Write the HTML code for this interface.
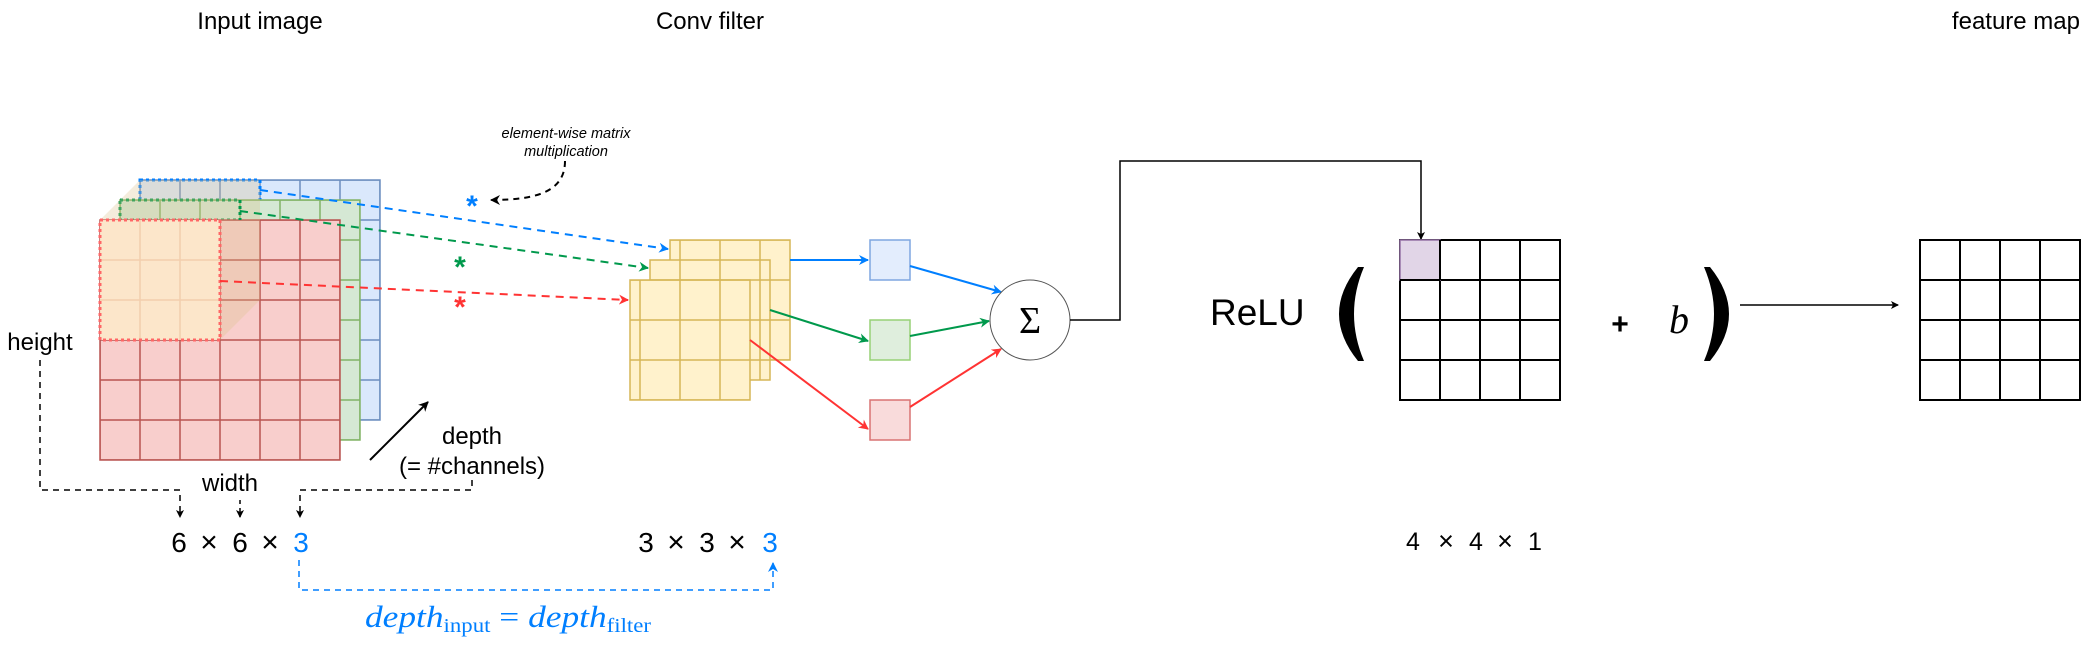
<!DOCTYPE html>
<html><head><meta charset="utf-8"><style>
html,body{margin:0;padding:0;background:#fff}
svg{display:block}
text{font-family:"Liberation Sans",sans-serif}
.serif{font-family:"Liberation Serif","DejaVu Serif",serif}
</style></head><body>
<svg width="2082" height="666" viewBox="0 0 2082 666" xmlns="http://www.w3.org/2000/svg">
<defs>
<marker id="ab" markerWidth="10" markerHeight="10" refX="9" refY="5" orient="auto" markerUnits="userSpaceOnUse"><path d="M0,0 L10,5 L0,10 L3,5 z" fill="#007FFF"/></marker>
<marker id="ag" markerWidth="10" markerHeight="10" refX="9" refY="5" orient="auto" markerUnits="userSpaceOnUse"><path d="M0,0 L10,5 L0,10 L3,5 z" fill="#00994C"/></marker>
<marker id="ar" markerWidth="10" markerHeight="10" refX="9" refY="5" orient="auto" markerUnits="userSpaceOnUse"><path d="M0,0 L10,5 L0,10 L3,5 z" fill="#FF3333"/></marker>
<marker id="ak" markerWidth="10" markerHeight="10" refX="9" refY="5" orient="auto" markerUnits="userSpaceOnUse"><path d="M0,0 L10,5 L0,10 L3,5 z" fill="#000"/></marker>
<marker id="aks" markerWidth="8" markerHeight="8" refX="7" refY="4" orient="auto" markerUnits="userSpaceOnUse"><path d="M0,0 L8,4 L0,8 L2,4 z" fill="#000"/></marker>
<pattern id="gb" width="40" height="40" patternUnits="userSpaceOnUse" x="140" y="180"><rect width="40" height="40" fill="#dae8fc" stroke="#6c8ebf" stroke-width="1.5"/></pattern>
<pattern id="gg" width="40" height="40" patternUnits="userSpaceOnUse" x="120" y="200"><rect width="40" height="40" fill="#d5e8d4" stroke="#82b366" stroke-width="1.5"/></pattern>
<pattern id="gr" width="40" height="40" patternUnits="userSpaceOnUse" x="100" y="220"><rect width="40" height="40" fill="#f8cecc" stroke="#b85450" stroke-width="1.5"/></pattern>
<pattern id="gy" width="40" height="40" patternUnits="userSpaceOnUse" x="0" y="0"><rect width="40" height="40" fill="#fff2cc" stroke="#d6b656" stroke-width="1.5"/></pattern>
<pattern id="gk" width="40" height="40" patternUnits="userSpaceOnUse" x="0" y="0"><rect width="40" height="40" fill="#fff" stroke="#000" stroke-width="2"/></pattern>
</defs>

<text x="260" y="29" font-size="24" text-anchor="middle">Input image</text>
<text x="710" y="29" font-size="24" text-anchor="middle">Conv filter</text>
<text x="2080" y="29" font-size="24" text-anchor="end">feature map</text>

<rect x="140" y="180" width="240" height="240" fill="url(#gb)" stroke="#6c8ebf" stroke-width="1.5"/>
<rect x="140" y="180" width="120" height="40" fill="none" stroke="#007FFF" stroke-width="3" stroke-dasharray="3,3"/>
<rect x="120" y="200" width="240" height="240" fill="url(#gg)" stroke="#82b366" stroke-width="1.5"/>
<rect x="120" y="200" width="120" height="20" fill="none" stroke="#00994C" stroke-width="3" stroke-dasharray="3,3"/>
<rect x="100" y="220" width="240" height="240" fill="url(#gr)" stroke="#b85450" stroke-width="1.5"/>
<polygon points="100,220 140,180 260,180 260,300 220,340 100,340" fill="#d9c08a" fill-opacity="0.3"/>
<rect x="100" y="220" width="120" height="120" fill="#fde9cc" fill-opacity="0.9"/>
<g stroke="#f3cfae" stroke-width="1.5"><line x1="140" y1="220" x2="140" y2="340"/><line x1="180" y1="220" x2="180" y2="340"/><line x1="100" y1="260" x2="220" y2="260"/><line x1="100" y1="300" x2="220" y2="300"/></g>
<rect x="100" y="220" width="120" height="120" fill="none" stroke="#FF6666" stroke-width="3" stroke-dasharray="3,3"/>
<line x1="260" y1="180" x2="260" y2="190" stroke="#007FFF" stroke-width="3" stroke-dasharray="3,3"/>
<line x1="240" y1="200" x2="240" y2="220" stroke="#00994C" stroke-width="3" stroke-dasharray="3,3"/>

<path d="M260,190 L668,249" stroke="#007FFF" stroke-width="2" stroke-dasharray="8,6" fill="none" marker-end="url(#ab)"/>
<path d="M240,211 L648,268" stroke="#00994C" stroke-width="2" stroke-dasharray="8,6" fill="none" marker-end="url(#ag)"/>
<path d="M220,281 L628,300" stroke="#FF3333" stroke-width="2" stroke-dasharray="8,6" fill="none" marker-end="url(#ar)"/>
<text x="472" y="216" font-size="30" font-weight="bold" fill="#007FFF" text-anchor="middle">*</text>
<text x="460" y="277" font-size="30" font-weight="bold" fill="#00994C" text-anchor="middle">*</text>
<text x="460" y="317" font-size="30" font-weight="bold" fill="#FF3333" text-anchor="middle">*</text>
<text x="566" y="138" font-size="14.5" font-style="italic" text-anchor="middle">element-wise matrix</text>
<text x="566" y="156" font-size="14.5" font-style="italic" text-anchor="middle">multiplication</text>
<path d="M565,161 C565,190 540,200 491,200" stroke="#000" stroke-width="2" stroke-dasharray="6,5" fill="none" marker-end="url(#ak)"/>

<text x="40" y="350" font-size="24" text-anchor="middle">height</text>
<text x="230" y="491" font-size="24" text-anchor="middle">width</text>
<text x="472" y="444" font-size="24" text-anchor="middle">depth</text>
<text x="472" y="474" font-size="24" text-anchor="middle">(= #channels)</text>
<line x1="370" y1="460" x2="428" y2="402" stroke="#000" stroke-width="2" marker-end="url(#ak)"/>
<path d="M40,360 V490 H180 V517" stroke="#000" stroke-width="1.5" stroke-dasharray="6,5" fill="none" marker-end="url(#aks)"/>
<path d="M240,500 V517" stroke="#000" stroke-width="1.5" stroke-dasharray="4,4" fill="none" marker-end="url(#aks)"/>
<path d="M472,480 V490 H300 V517" stroke="#000" stroke-width="1.5" stroke-dasharray="6,5" fill="none" marker-end="url(#aks)"/>
<g font-size="28" text-anchor="middle">
<text x="179" y="552">6</text><text x="209" y="552" font-size="30">×</text><text x="240" y="552">6</text><text x="270" y="552" font-size="30">×</text><text x="301" y="552" fill="#007FFF">3</text>
<text x="646" y="552">3</text><text x="676" y="552" font-size="30">×</text><text x="707" y="552">3</text><text x="737" y="552" font-size="30">×</text><text x="770" y="552" fill="#007FFF">3</text>
</g>
<path d="M299,560 V590 H773 V563" stroke="#007FFF" stroke-width="1.5" stroke-dasharray="6,5" fill="none" marker-end="url(#ab)"/>
<text x="365" y="627" font-size="31" fill="#007FFF" class="serif" textLength="286" lengthAdjust="spacingAndGlyphs"><tspan font-style="italic">depth</tspan><tspan font-size="20" dy="5">input</tspan><tspan dy="-5"> = </tspan><tspan font-style="italic">depth</tspan><tspan font-size="20" dy="5">filter</tspan></text>

<rect x="670" y="240" width="120" height="120" fill="url(#gy)" stroke="#d6b656" stroke-width="1.5"/>
<rect x="650" y="260" width="120" height="120" fill="url(#gy)" stroke="#d6b656" stroke-width="1.5"/>
<rect x="630" y="280" width="120" height="120" fill="url(#gy)" stroke="#d6b656" stroke-width="1.5"/>

<rect x="870" y="240" width="40" height="40" fill="#e3edfd" stroke="#7ea6e0" stroke-width="1.5"/>
<rect x="870" y="320" width="40" height="40" fill="#dfeedd" stroke="#97d077" stroke-width="1.5"/>
<rect x="870" y="400" width="40" height="40" fill="#f9dbdb" stroke="#d97373" stroke-width="1.5"/>
<line x1="790" y1="260" x2="868" y2="260" stroke="#007FFF" stroke-width="2" marker-end="url(#ab)"/>
<line x1="770" y1="310" x2="868" y2="341" stroke="#00994C" stroke-width="2" marker-end="url(#ag)"/>
<line x1="750" y1="340" x2="868" y2="429" stroke="#FF3333" stroke-width="2" marker-end="url(#ar)"/>
<line x1="910" y1="266" x2="1001" y2="292" stroke="#007FFF" stroke-width="2" marker-end="url(#ab)"/>
<line x1="910" y1="336" x2="989" y2="321" stroke="#00994C" stroke-width="2" marker-end="url(#ag)"/>
<line x1="910" y1="407" x2="1001" y2="349" stroke="#FF3333" stroke-width="2" marker-end="url(#ar)"/>
<circle cx="1030" cy="320" r="40" fill="#fff" stroke="#555" stroke-width="1"/>
<text x="1030" y="333" font-size="38" text-anchor="middle" class="serif">Σ</text>
<path d="M1070,320 H1120 V161 H1421 V239" stroke="#000" stroke-width="1.5" fill="none" marker-end="url(#aks)"/>

<text x="1210" y="325" font-size="37">ReLU</text>
<path d="M1358,267 L1364,267 Q1344,314 1364,361 L1358,361 Q1320,314 1358,267 Z" fill="#000"/>
<rect x="1400" y="240" width="160" height="160" fill="url(#gk)" stroke="#000" stroke-width="2"/>
<rect x="1400" y="240" width="40" height="40" fill="#e1d5e7" stroke="#9673a6" stroke-width="1.5"/>
<line x1="1440" y1="240" x2="1440" y2="280" stroke="#000" stroke-width="2"/>
<line x1="1400" y1="280" x2="1440" y2="280" stroke="#000" stroke-width="2"/>
<text x="1620" y="334" font-size="30" text-anchor="middle" font-weight="bold">+</text>
<text x="1679" y="333" font-size="40" text-anchor="middle" font-style="italic" class="serif">b</text>
<path d="M1710,267 L1704,267 Q1724,314 1704,361 L1710,361 Q1748,314 1710,267 Z" fill="#000"/>
<line x1="1740" y1="305" x2="1898" y2="305" stroke="#000" stroke-width="1.5" marker-end="url(#aks)"/>
<rect x="1920" y="240" width="160" height="160" fill="url(#gk)" stroke="#000" stroke-width="2"/>
<g font-size="25" text-anchor="middle">
<text x="1413" y="550">4</text><text x="1446" y="550" font-size="27">×</text><text x="1476" y="550">4</text><text x="1505" y="550" font-size="27">×</text><text x="1535" y="550">1</text>
</g>
</svg>
</body></html>
